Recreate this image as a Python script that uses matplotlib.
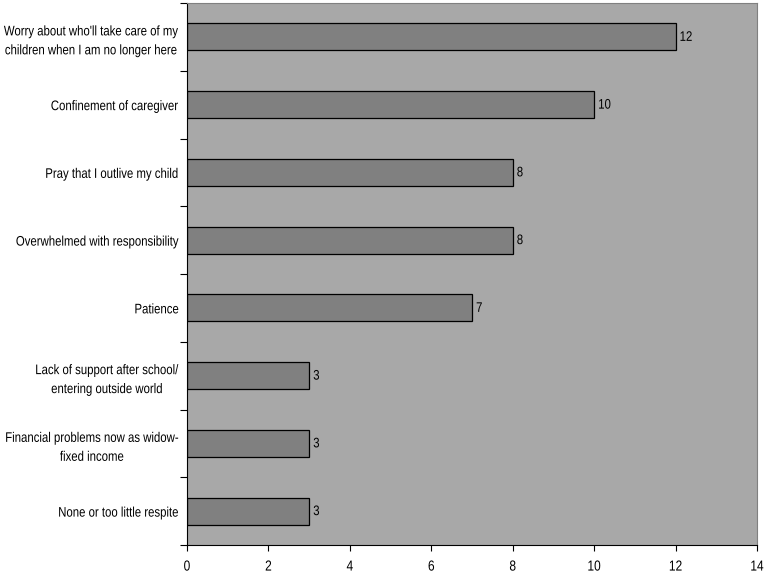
import matplotlib
matplotlib.use("Agg")
import matplotlib.pyplot as plt
from matplotlib.patheffects import AbstractPathEffect
from matplotlib.transforms import Affine2D
import numpy as np

plt.rcParams['font.family'] = ['Liberation Sans', 'DejaVu Sans']

labels = [
    "Worry about who'll take care of my\nchildren when I am no longer here",
    "Confinement of caregiver",
    "Pray that I outlive my child",
    "Overwhelmed with responsibility",
    "Patience",
    "Lack of support after school/\nentering outside world",
    "Financial problems now as widow-\nfixed income",
    "None or too little respite",
]
counts = [12, 10, 8, 8, 7, 3, 3, 3]


class Narrow(AbstractPathEffect):
    # squeeze glyphs horizontally around the text anchor (fake Arial Narrow)
    def __init__(self, text, s=0.82):
        super().__init__()
        self.text = text
        self.s = s

    def draw_path(self, renderer, gc, tpath, affine, rgbFace=None):
        x0, _ = self.text.get_transform().transform(self.text.get_unitless_position())
        squeeze = Affine2D().translate(-x0, 0).scale(self.s, 1).translate(x0, 0)
        renderer.draw_path(gc, tpath, affine + squeeze, rgbFace)


def narrow(t):
    t.set_path_effects([Narrow(t)])


fig = plt.figure(figsize=(7.67, 5.76), dpi=100)
ax = fig.add_axes([187 / 767, 1 - 545 / 576, 570 / 767, 542 / 576])
ax.set_facecolor('#a8a8a8')

y = np.arange(len(labels))
bars = ax.barh(y, counts, height=0.4, color='#808080', edgecolor='black', linewidth=0.9)
for b, v in zip(bars, counts):
    t = ax.text(b.get_width() + 0.1, b.get_y() + b.get_height() / 2, str(v),
                va='center', ha='left', fontsize=10)
    narrow(t)

ax.set_ylim(len(labels) - 0.5, -0.5)
ax.set_xlim(0, 14)
ax.set_xticks(np.arange(0, 15, 2))
ax.set_yticks(y)
ax.set_yticklabels(labels, fontsize=10, multialignment='center', linespacing=1.45)
ax.set_yticks(np.arange(-0.5, len(labels), 1), minor=True)
ax.tick_params(axis='y', which='major', length=0, pad=5.8)
ax.tick_params(axis='y', which='minor', length=5, width=0.8, direction='out')
ax.tick_params(axis='x', length=4, width=0.8, direction='out', labelsize=10.5, pad=6.5)

for t in ax.get_yticklabels() + ax.get_xticklabels():
    narrow(t)

for s in ['top', 'right']:
    ax.spines[s].set_color('#808080')
for s in ['left', 'bottom']:
    ax.spines[s].set_color('black')
    ax.spines[s].set_linewidth(0.8)

fig.savefig('out.png', dpi=100)
